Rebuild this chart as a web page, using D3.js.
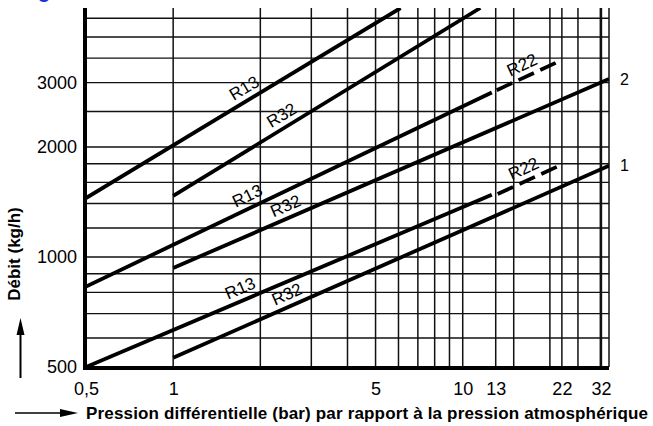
<!DOCTYPE html>
<html>
<head>
<meta charset="utf-8">
<script src="https://cdn.jsdelivr.net/npm/d3@7"></script>
<style>
  html, body { margin: 0; padding: 0; background: #fff; }
  svg { display: block; font-family: "Liberation Sans", Arial, Helvetica, sans-serif; }
</style>
</head>
<body>
<svg id="chart" width="653" height="426"></svg>
<script>
// Differential pressure (bar): tick marks and grid
const xTickValues = [0.5, 1, 5, 10, 13, 22, 32];
const xTickLabels = ["0,5", "1", "5", "10", "13", "22", "32"];
const xGridValues = [1, 2, 3, 4, 5, 6, 7, 8, 9, 10, 13, 15, 20, 22, 25, 30, 32];

// Flow rate (kg/h): tick marks and grid
const yTickValues = [500, 1000, 2000, 3000];
const yGridValues = [600, 700, 800, 900, 1000, 1200, 1400, 1600, 1800, 2000, 2500, 3000, 3500, 4000, 4500];

// Valve capacity lines, [pressure bar, flow kg/h]
const r13Upper = [[0.5, 1450], [6.1, 4800]];
const r32Upper = [[1, 1470], [11.5, 4800]];
const r13Size2 = [[0.5, 830], [12.6, 2820]];
const r22Size2 = [[13.1, 2860], [21.5, 3430]];
const r32Size2 = [[1, 933], [32, 3070]];
const r13Size1 = [[0.5, 500], [12.6, 1480]];
const r22Size1 = [[13.2, 1487], [21.3, 1770]];
const r32Size1 = [[1, 530], [32, 1777]];

// Refrigerant names and the pressure at which each name is written
const lineNames = ["R13", "R32", "R13", "R22", "R32", "R13", "R22", "R32"];
const labelPressure = [1.85, 2.49, 1.88, 16.7, 2.54, 1.77, 16.9, 2.57];
const sizeNames = ["2", "1"];

const series = [r13Upper, r32Upper, r13Size2, r22Size2, r32Size2, r13Size1, r22Size1, r32Size1]
  .map((pts, i) => ({ pts, name: lineNames[i], at: labelPressure[i] }));

const svg = d3.select("#chart");
const x = d3.scaleLog().domain([0.5, 32]).range([86, 609]);
const y = d3.scaleLog().domain([500, 4800]).range([367, 8]);
const [x0, x1] = x.range();
const [yb, yt] = y.range();

svg.append("defs").append("clipPath").attr("id", "plot")
  .append("rect").attr("x", x0).attr("y", yt).attr("width", x1 - x0).attr("height", yb - yt);

// Grid
const grid = svg.append("g").attr("stroke", "#111");
grid.selectAll("line.v").data(xGridValues).join("line")
  .attr("class", "v")
  .attr("x1", d => x(d)).attr("x2", d => x(d))
  .attr("y1", yt).attr("y2", yb)
  .attr("stroke-width", d => d === 30 ? 2.6 : 1.5);
grid.selectAll("line.h").data(yGridValues).join("line")
  .attr("class", "h")
  .attr("x1", x0).attr("x2", x1)
  .attr("y1", d => y(d)).attr("y2", d => y(d))
  .attr("stroke-width", 1.4);

// Frame: thick left and bottom axes
svg.append("line").attr("x1", x0 - 1).attr("x2", x0 - 1).attr("y1", yt).attr("y2", yb + 3)
  .attr("stroke", "#000").attr("stroke-width", 4);
svg.append("line").attr("x1", x0 - 3).attr("x2", x1).attr("y1", yb + 1).attr("y2", yb + 1)
  .attr("stroke", "#000").attr("stroke-width", 4);

// Axis labels
const yAxis = svg.append("g").attr("transform", `translate(${x0},0)`)
  .call(d3.axisLeft(y).tickValues(yTickValues).tickFormat(d3.format("d")).tickSize(0).tickPadding(9));
yAxis.select(".domain").remove();
yAxis.selectAll("text").attr("font-size", 18).attr("fill", "#000")
  .attr("font-family", "Liberation Sans, Arial, sans-serif");

const xAxis = svg.append("g").attr("transform", `translate(0,${yb})`)
  .call(d3.axisBottom(x).tickValues(xTickValues)
    .tickFormat((d, i) => xTickLabels[i]).tickSize(0).tickPadding(15));
xAxis.select(".domain").remove();
xAxis.selectAll("text").attr("font-size", 18).attr("fill", "#000")
  .attr("font-family", "Liberation Sans, Arial, sans-serif")
  .filter(d => d === 32).attr("text-anchor", "end").attr("x", 2);

// Capacity lines
const line = d3.line().x(d => x(d[0])).y(d => y(d[1]));
const curves = svg.append("g").attr("clip-path", "url(#plot)");
curves.selectAll("path").data(series).join("path")
  .attr("d", s => line(s.pts))
  .attr("fill", "none").attr("stroke", "#000").attr("stroke-width", 3.8)
  .attr("stroke-dasharray", s => s.name === "R22" ? "17,7" : null);

// Refrigerant names written along their lines
const labels = svg.append("g").attr("font-size", 17).attr("fill", "#000").attr("text-anchor", "middle");
series.forEach(s => {
  const [a, b] = s.pts;
  const ax = x(a[0]), ay = y(a[1]), bx = x(b[0]), by = y(b[1]);
  const px = x(s.at);
  const py = ay + (by - ay) * (px - ax) / (bx - ax);
  const ang = Math.atan2(by - ay, bx - ax) * 180 / Math.PI;
  labels.append("text")
    .attr("transform", `translate(${px},${py}) rotate(${ang})`)
    .attr("y", -6.5)
    .text(s.name);
});

// Valve size numbers at the right end of the R32 lines
[r32Size2, r32Size1].forEach((pts, i) => {
  const end = pts[pts.length - 1];
  svg.append("text")
    .attr("x", x(end[0]) + 11).attr("y", y(end[1]))
    .attr("dy", "0.35em").attr("font-size", 16).attr("fill", "#000")
    .text(sizeNames[i]);
});

// Axis titles with arrows
svg.append("text")
  .attr("transform", "translate(20,254) rotate(-90)")
  .attr("text-anchor", "middle").attr("font-size", 17).attr("font-weight", "bold")
  .text("Débit (kg/h)");
svg.append("line").attr("x1", 20.5).attr("x2", 20.5).attr("y1", 378).attr("y2", 330)
  .attr("stroke", "#000").attr("stroke-width", 2);
svg.append("path").attr("d", "M20.5,318 L16.5,335 L24.5,335 Z").attr("fill", "#000");

svg.append("text")
  .attr("x", 86).attr("y", 419)
  .attr("font-size", 17).attr("font-weight", "bold")
  .attr("textLength", 562).attr("lengthAdjust", "spacing")
  .text("Pression différentielle (bar) par rapport à la pression atmosphérique");
svg.append("line").attr("x1", 15).attr("x2", 66).attr("y1", 413).attr("y2", 413)
  .attr("stroke", "#000").attr("stroke-width", 1.4);
svg.append("path").attr("d", "M78,413 L60,409 L60,417 Z").attr("fill", "#000");

// Tail of the heading above the chart
svg.append("text").attr("x", 38).attr("y", -2)
  .attr("font-size", 20).attr("font-weight", "bold").attr("fill", "#1a2fe0")
  .text("g");
</script>
</body>
</html>
